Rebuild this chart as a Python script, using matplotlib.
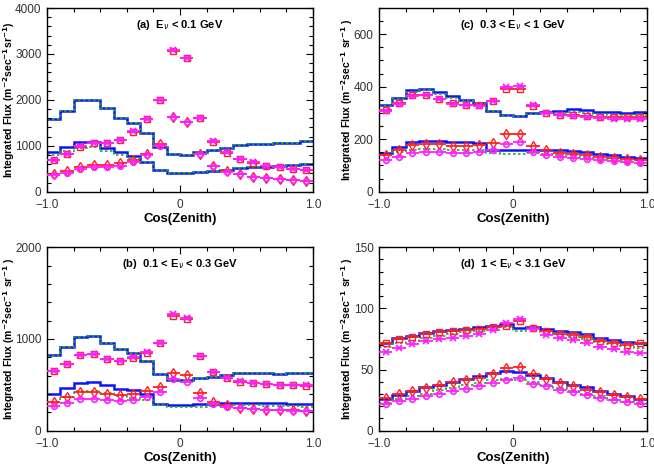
import numpy as np
from matplotlib import pyplot as plt
from matplotlib.ticker import MultipleLocator

plt.rcParams['font.family'] = ['Liberation Sans', 'DejaVu Sans']

# cos(zenith) bins
edges = np.round(np.arange(-1.0, 1.01, 0.1), 2)
centers = np.round(edges[:-1] + 0.05, 3)

# (a) E < 0.1 GeV
a_blue_hi = [1580, 1760, 2000, 2000, 1818, 1600, 1505, 1287, 975, 815, 800, 873, 900, 960, 1018, 1030, 1040, 1055, 1070, 1105]
a_green_hi = [1580, 1760, 2000, 2000, 1818, 1600, 1505, 1287, 975, 815, 800, 873, 900, 960, 1018, 1030, 1040, 1055, 1070, 1105]
a_blue_lo = [873, 982, 1090, 1090, 960, 873, 785, 655, 473, 400, 400, 420, 445, 473, 509, 530, 545, 560, 575, 596]
a_green_lo = [800, 880, 960, 975, 880, 790, 730, 650, 473, 400, 400, 420, 445, 473, 509, 530, 545, 560, 575, 596]
a_red_sq = [690, 822, 982, 1055, 1055, 1127, 1309, 1585, 2000, 3055, 2902, 1607, 1090, 851, 713, 633, 567, 531, 495, 480]
a_mag_x = [695, 825, 985, 1060, 1058, 1130, 1312, 1590, 2005, 3076, 2915, 1612, 1095, 855, 716, 636, 570, 534, 498, 483]
a_red_dm = [385, 451, 545, 582, 582, 618, 690, 822, 1040, 1622, 1527, 822, 567, 451, 385, 327, 291, 269, 247, 233]
a_mag_ci = [364, 415, 495, 531, 531, 567, 647, 800, 1004, 1622, 1527, 822, 567, 436, 385, 327, 291, 269, 247, 233]

# (b) 0.1 < E < 0.3 GeV
b_blue_hi = [825, 916, 1025, 1036, 953, 887, 844, 760, 618, 553, 553, 575, 589, 604, 633, 633, 625, 618, 625, 633]
b_green_hi = [815, 916, 1025, 1036, 953, 887, 844, 760, 618, 553, 553, 575, 589, 604, 633, 633, 625, 618, 625, 633]
b_blue_lo = [400, 462, 524, 535, 498, 458, 444, 396, 291, 276, 276, 287, 291, 298, 305, 305, 302, 298, 295, 295]
b_green_lo = [309, 371, 433, 433, 407, 382, 356, 335, 280, 255, 255, 262, 269, 276, 284, 276, 273, 269, 265, 262]
b_red_sq = [651, 727, 825, 836, 782, 760, 796, 851, 953, 1255, 1215, 815, 640, 571, 535, 516, 505, 498, 495, 491]
b_mag_x = [655, 730, 828, 840, 785, 762, 799, 855, 957, 1269, 1225, 818, 643, 573, 537, 518, 507, 500, 497, 493]
b_red_dm = [316, 371, 418, 425, 400, 389, 400, 433, 480, 625, 607, 407, 309, 280, 251, 240, 229, 225, 222, 218]
b_mag_ci = [269, 298, 342, 349, 335, 324, 335, 371, 425, 560, 535, 360, 291, 255, 244, 233, 225, 222, 218, 215]

# (c) 0.3 < E < 1 GeV
c_blue_hi = [332, 357, 386, 392, 379, 364, 351, 338, 309, 292, 290, 300, 305, 308, 314, 310, 305, 303, 301, 303]
c_green_hi = [328, 355, 379, 387, 374, 358, 346, 336, 307, 290, 287, 296, 300, 300, 305, 300, 296, 294, 292, 292]
c_blue_lo = [149, 169, 188, 195, 193, 189, 188, 185, 160, 157, 157, 160, 160, 157, 156, 152, 144, 139, 134, 130]
c_green_lo = [140, 152, 160, 163, 162, 160, 157, 157, 149, 144, 144, 147, 144, 140, 138, 134, 129, 125, 121, 119]
c_red_sq = [313, 337, 367, 369, 354, 338, 332, 330, 345, 390, 390, 328, 300, 294, 292, 289, 285, 284, 284, 284]
c_mag_x = [309, 335, 364, 369, 354, 336, 331, 328, 345, 398, 402, 331, 299, 291, 287, 285, 281, 278, 277, 276]
c_red_dm = [140, 160, 178, 183, 180, 176, 176, 179, 185, 220, 220, 176, 157, 149, 144, 138, 133, 128, 124, 120]
c_mag_ci = [121, 134, 147, 153, 152, 148, 148, 151, 160, 183, 188, 151, 138, 134, 130, 125, 121, 117, 114, 111]

# (d) 1 < E < 3.1 GeV
d_blue_hi = [71.8, 75.4, 77.6, 79.5, 81.2, 82.3, 83.4, 84.5, 85.5, 86.9, 84.2, 84.5, 82.8, 81.7, 80.3, 78.7, 76.0, 74.0, 72.4, 71.3]
d_green_hi = [68.5, 71.8, 73.7, 76.0, 77.6, 79.0, 80.3, 81.4, 82.8, 85.0, 81.2, 83.7, 81.0, 78.7, 76.8, 74.6, 72.7, 70.5, 69.1, 67.7]
d_blue_lo = [26.3, 29.0, 32.6, 35.6, 37.6, 40.0, 42.5, 45.0, 47.2, 48.5, 47.7, 45.5, 43.0, 40.0, 37.6, 35.4, 32.6, 29.9, 28.0, 26.0]
d_green_lo = [23.0, 25.8, 28.0, 30.4, 32.9, 35.1, 37.3, 38.9, 41.1, 42.2, 41.7, 39.5, 37.3, 34.8, 32.4, 30.2, 28.0, 25.2, 23.6, 22.5]
d_red_sq = [71.3, 74.6, 76.8, 79.2, 80.6, 81.4, 82.0, 82.8, 85.0, 85.5, 89.7, 83.6, 81.4, 79.0, 77.9, 76.8, 73.2, 71.8, 70.2, 71.3]
d_mag_x = [64.4, 68.0, 70.5, 73.0, 74.6, 76.2, 77.3, 79.0, 82.0, 87.7, 91.6, 83.4, 78.4, 75.7, 73.8, 71.3, 68.8, 66.4, 64.7, 63.6]
d_red_dm = [27.1, 29.6, 32.1, 35.1, 37.3, 39.5, 41.1, 43.3, 46.6, 51.3, 51.8, 46.6, 42.5, 38.9, 36.7, 33.5, 31.3, 29.3, 27.4, 26.3]
d_mag_ci = [21.9, 24.1, 26.3, 28.5, 30.4, 32.4, 34.0, 36.5, 38.9, 41.1, 43.0, 38.4, 36.2, 33.5, 31.3, 29.0, 26.9, 25.2, 23.3, 21.9]

ylab_a = r'Integrated Flux (m$^{\mathbf{-2}}$sec$^{\mathbf{-1}}$sr$^{\mathbf{-1}}$)'
ylab = r'Integrated Flux (m$^{\mathbf{-2}}$sec$^{\mathbf{-1}}$ sr$^{\mathbf{-1}}$ )'

panels = [
    # rect, title, ylim, major, minor, label, label x offset, data
    ([0.0719, 0.5904, 0.4067, 0.3925], r'(a)  E$_{\nu}$ < 0.1 GeV', 4000, 1000, 200, ylab_a, -0.113,
     (a_blue_hi, a_green_hi, a_blue_lo, a_green_lo, a_red_sq, a_mag_x, a_red_dm, a_mag_ci)),
    ([0.0719, 0.0797, 0.4067, 0.3920], r'(b)  0.1 < E$_{\nu}$ < 0.3 GeV', 2000, 1000, 200, ylab, -0.113,
     (b_blue_hi, b_green_hi, b_blue_lo, b_green_lo, b_red_sq, b_mag_x, b_red_dm, b_mag_ci)),
    ([0.5795, 0.5904, 0.4098, 0.3925], r'(c)  0.3 < E$_{\nu}$ < 1 GeV', 700, 200, 50, ylab, -0.09,
     (c_blue_hi, c_green_hi, c_blue_lo, c_green_lo, c_red_sq, c_mag_x, c_red_dm, c_mag_ci)),
    ([0.5795, 0.0797, 0.4098, 0.3920], r'(d)  1 < E$_{\nu}$ < 3.1 GeV', 150, 50, 10, ylab, -0.09,
     (d_blue_hi, d_green_hi, d_blue_lo, d_green_lo, d_red_sq, d_mag_x, d_red_dm, d_mag_ci)),
]

fig = plt.figure(figsize=(6.54, 4.68), dpi=100)

for rect, title, ytop, major, minor, label, lx, data in panels:
    ax = fig.add_axes(rect)
    bh, gh, bl, gl, rsq, mx, rdm, mci = data

    for vals in (bh, bl):
        ax.stairs(vals, edges, color='#0a14ff', linewidth=1.8, baseline=None)
    for vals in (gh, gl):
        ax.stairs(vals, edges, color='#20b020', linewidth=1.2, linestyle=(0, (1.5, 1.5)), baseline=None)

    ax.errorbar(centers, rsq, xerr=0.05, fmt='s', ms=4.2, mfc='none', mec='#ff2020', mew=1.0,
                ecolor='#ff2020', elinewidth=1.3, capsize=0, zorder=4)
    ax.errorbar(centers, mx, xerr=0.05, fmt='x', ms=4.5, mec='#ff20ff', mew=1.3,
                ecolor='#ff20ff', elinewidth=1.3, capsize=0, zorder=5)
    ax.errorbar(centers, rdm, xerr=0.05, fmt='d', ms=5, mfc='none', mec='#ff2020', mew=1.0,
                ecolor='#ff2020', elinewidth=1.3, capsize=0, zorder=4)
    ax.errorbar(centers, mci, xerr=0.05, fmt='o', ms=4, mfc='none', mec='#ff20ff', mew=1.2,
                ecolor='#ff20ff', elinewidth=1.3, capsize=0, zorder=5)

    ax.set_xlim(-1.0, 1.0)
    ax.set_ylim(0, ytop)
    ax.set_xticks([-1.0, 0, 1.0])
    ax.set_xticklabels(['\u22121.0', '0', '1.0'])
    ax.xaxis.set_minor_locator(MultipleLocator(0.2))
    ax.yaxis.set_major_locator(MultipleLocator(major))
    ax.yaxis.set_minor_locator(MultipleLocator(minor))
    ax.tick_params(which='both', direction='in', top=True, right=True, labelsize=8.5,
                   labelcolor='#333333', width=0.8)
    ax.tick_params(which='major', length=5)
    ax.tick_params(which='minor', length=3)
    ax.tick_params(axis='x', pad=5)
    ax.tick_params(axis='y', pad=4)
    for s in ax.spines.values():
        s.set_linewidth(1.0)

    ax.text(0.5, 0.91, title, transform=ax.transAxes, ha='center', va='center',
            fontsize=8, fontweight='bold')
    ax.set_xlabel('Cos(Zenith)', fontsize=9.5, fontweight='bold', labelpad=2)
    ax.set_ylabel(label, fontsize=7.5, fontweight='bold')
    ax.yaxis.set_label_coords(lx, 0.5)

fig.savefig('out.png', dpi=100)
